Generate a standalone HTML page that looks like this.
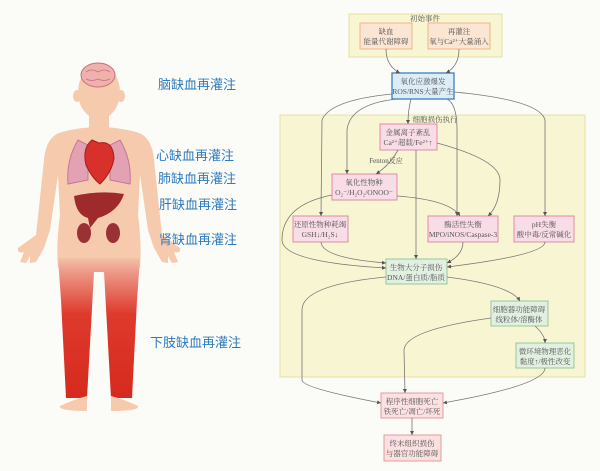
<!DOCTYPE html>
<html><head><meta charset="utf-8"><style>
html,body{margin:0;padding:0;background:#fbfbf8;}
body{width:600px;height:471px;overflow:hidden;position:relative;font-family:"Liberation Serif","Noto Serif CJK SC",serif;}
.lbl{position:absolute;color:#2e7bbd;font-family:"Liberation Sans","Noto Sans CJK SC",sans-serif;font-size:13px;white-space:nowrap;}
</style></head><body>
<svg width="600" height="471" style="position:absolute;left:0;top:0">
<defs>
<linearGradient id="leg" x1="0" y1="0" x2="0" y2="1">
<stop offset="0" stop-color="#f3c3a5"/><stop offset="0.08" stop-color="#eea08f"/><stop offset="0.4" stop-color="#dd3a2c"/><stop offset="1" stop-color="#d72a1e"/></linearGradient>
<marker id="a" markerWidth="6" markerHeight="6" refX="5" refY="3" orient="auto"><path d="M0,0.5 L5,3 L0,5.5z" fill="#555"/></marker>
</defs>
<!-- body -->
<g fill="#f6cbad">
<ellipse cx="99" cy="92" rx="21" ry="27"/>
<ellipse cx="77" cy="96" rx="4" ry="6"/><ellipse cx="121" cy="96" rx="4" ry="6"/>
<rect x="89" y="112" width="20" height="20"/>
<!-- torso -->
<path d="M62,132 Q99,122 136,132 Q148,138 140,175 L138,215 Q142,245 140,268 L58,268 Q56,245 60,215 L58,175 Q50,138 62,132z"/>
<!-- arms -->
<path d="M62,132 Q46,136 44,160 L36,235 L18,248 Q17,254 24,252 L20,262 L26,263 L30,256 L30,263 L36,262 L44,248 L50,230 L58,175z"/>
<path d="M136,132 Q152,136 154,160 L162,235 L180,248 Q181,254 174,252 L178,262 L172,263 L168,256 L168,263 L162,262 L154,248 L148,230 L140,175z"/>
</g>
<path d="M58,258 L140,258 L137,300 L132,398 L111,398 L104,272 L94,272 L87,398 L66,398 L61,300z" fill="url(#leg)"/>
<path d="M87,396 Q75,399 60,406 Q58,411 87,411z M111,396 Q123,399 138,406 Q140,411 111,411z" fill="#f6cbad"/>
<!-- organs -->
<ellipse cx="98" cy="75" rx="17" ry="12" fill="#f0b0ad" stroke="#c57178" stroke-width="1"/>
<path d="M86,72 q6,-4 12,0 q6,-4 12,0 M86,79 q6,3 12,0 q6,3 12,0" stroke="#c57178" fill="none" stroke-width="0.8"/>
<path d="M78,140 Q66,160 68,184 L88,180 L88,145z" fill="#e3a1b4" stroke="#c87590"/>
<path d="M120,140 Q132,160 130,184 L110,180 L110,145z" fill="#e3a1b4" stroke="#c87590"/>
<path d="M92,140 Q82,148 86,165 Q92,178 100,184 Q112,172 114,158 Q113,140 99,143z" fill="#d8302a" stroke="#a3201b"/>
<path d="M74,196 Q100,190 124,194 Q118,212 98,218 L90,228 L88,218 Q76,215 74,196z" fill="#9e2a2c"/>
<ellipse cx="84" cy="233" rx="7" ry="10" fill="#9a3134"/><ellipse cx="113" cy="233" rx="7" ry="10" fill="#9a3134"/>
<!-- diagram boxes -->
<g font-family="Liberation Serif,Noto Serif CJK SC,serif" font-size="7.5" text-anchor="middle" fill="#555">
<rect x="349" y="14" width="153" height="43" fill="#f8f5d2" stroke="#e5e0a0"/>
<text x="425" y="21">初始事件</text>
<rect x="280" y="115" width="305" height="262" fill="#f8f5d2" stroke="#e5e0a0"/>
<text x="435" y="122">细胞损伤执行</text>
<g stroke-width="1">
<rect x="360" y="23" width="52" height="26" fill="#fbe6d4" stroke="#f2b38a"/>
<rect x="428" y="23" width="62" height="26" fill="#fbe6d4" stroke="#f2b38a"/>
<rect x="392" y="73" width="62" height="26" fill="#dcedf8" stroke="#3b7fc0" stroke-width="1.3"/>
<rect x="380" y="124" width="57" height="26" fill="#f9dde6" stroke="#e08aa5"/>
<rect x="332" y="174" width="65" height="26" fill="#f9dde6" stroke="#e08aa5"/>
<rect x="293" y="216" width="55" height="26" fill="#f9dde6" stroke="#e08aa5"/>
<rect x="428" y="216" width="70" height="26" fill="#f9dde6" stroke="#e08aa5"/>
<rect x="514" y="216" width="60" height="26" fill="#f9dde6" stroke="#e08aa5"/>
<rect x="386" y="259" width="61" height="25" fill="#e2f0e2" stroke="#98c79a"/>
<rect x="491" y="301" width="57" height="25" fill="#e2f0e2" stroke="#98c79a"/>
<rect x="516" y="343" width="58" height="25" fill="#e2f0e2" stroke="#98c79a"/>
<rect x="381" y="393" width="62" height="25" fill="#fbe1e1" stroke="#e79a9a"/>
<rect x="384" y="435" width="57" height="26" fill="#fbe1e1" stroke="#e79a9a"/>
</g>
<text x="386" y="34">缺血</text><text x="386" y="44">能量代谢障碍</text>
<text x="459" y="34">再灌注</text><text x="459" y="44">氧与Ca²⁺大量涌入</text>
<text x="423" y="84">氧化应激爆发</text><text x="423" y="94">ROS/RNS大量产生</text>
<text x="408" y="135">金属离子紊乱</text><text x="408" y="145">Ca²⁺超载/Fe²⁺↑</text>
<text x="386" y="163" font-size="7">Fenton反应</text>
<text x="364" y="185">氧化性物种</text><text x="364" y="195">O₂⁻/H₂O₂/ONOO⁻</text>
<text x="320" y="227">还原性物种耗竭</text><text x="320" y="237">GSH↓/H₂S↓</text>
<text x="463" y="227">酶活性失衡</text><text x="463" y="237">MPO/iNOS/Caspase-3</text>
<text x="544" y="227">pH失衡</text><text x="544" y="237">酸中毒/反常碱化</text>
<text x="416" y="270">生物大分子损伤</text><text x="416" y="280">DNA/蛋白质/脂质</text>
<text x="519" y="312">细胞器功能障碍</text><text x="519" y="322">线粒体/溶酶体</text>
<text x="545" y="354">微环境物理恶化</text><text x="545" y="364">黏度↑/极性改变</text>
<text x="412" y="404">程序性细胞死亡</text><text x="412" y="414">铁死亡/凋亡/坏死</text>
<text x="412" y="446">终末组织损伤</text><text x="412" y="456">与器官功能障碍</text>
</g>
<g fill="none" stroke="#777" stroke-width="0.8" marker-end="url(#a)">
<path d="M386,49 Q386,66 400,73"/>
<path d="M459,49 Q459,66 446,73"/>
<path d="M411,99 Q408,110 408,124"/>
<path d="M392,94 Q330,100 322,120 L321,216"/>
<path d="M397,99 Q350,104 347,130 L347,174"/>
<path d="M447,99 Q457,104 457,130 L457,216"/>
<path d="M454,92 Q540,100 545,120 L545,216"/>
<path d="M398,150 Q390,165 376,174"/>
<path d="M416,150 L416,259"/>
<path d="M437,143 Q500,160 500,180 Q500,205 488,216"/>
<path d="M332,195 Q282,205 282,240 Q282,262 386,268"/>
<path d="M397,196 Q450,200 460,216"/>
<path d="M321,242 Q322,258 386,263"/>
<path d="M463,242 Q463,255 447,263"/>
<path d="M545,242 Q545,255 447,267"/>
<path d="M386,277 Q302,285 302,310 L302,380 Q302,388 381,403"/>
<path d="M447,277 Q510,285 520,301"/>
<path d="M491,318 Q405,330 404,350 L405,393"/>
<path d="M535,326 Q545,335 545,343"/>
<path d="M545,368 Q545,385 443,403"/>
<path d="M412,418 L412,435"/>
</g>
</svg>
<div class="lbl" style="left:158px;top:74px">脑缺血再灌注</div>
<div class="lbl" style="left:156px;top:145px">心缺血再灌注</div>
<div class="lbl" style="left:158px;top:168px">肺缺血再灌注</div>
<div class="lbl" style="left:159px;top:194px">肝缺血再灌注</div>
<div class="lbl" style="left:159px;top:229px">肾缺血再灌注</div>
<div class="lbl" style="left:150px;top:332px">下肢缺血再灌注</div>
</body></html>
